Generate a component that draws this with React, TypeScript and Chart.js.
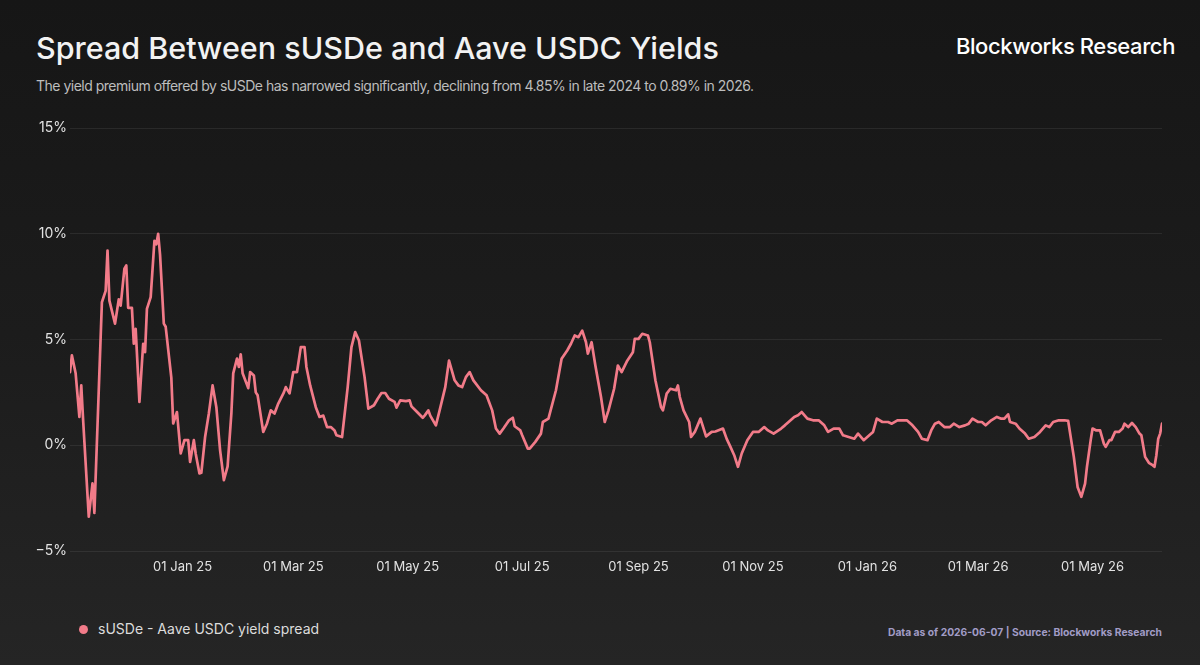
import React, { useEffect, useRef } from "react";
import { Chart, registerables } from "chart.js";

Chart.register(...registerables);

// Day offsets counted from 2024-11-01
const startDate = "2024-11-01";
const dayIndex = [
  1, 2, 4, 6, 7, 8, 11, 13, 14, 18, 20, 21, 22, 25, 27, 28, 30, 31, 32, 34, 35, 36, 38, 40, 41, 42, 44, 46, 47, 48, 49, 51, 52, 55, 56, 58,
  60, 62, 64, 65, 67, 68, 70, 71, 73, 75, 77, 79, 81, 83, 85, 87, 88, 90, 91, 92, 93, 96, 97, 99, 100, 101, 104, 106, 108, 110, 112, 115,
  116, 118, 120, 122, 124, 126, 127, 129, 132, 134, 136, 138, 140, 142, 143, 146, 149, 151, 153, 155, 158, 160, 163, 165, 167, 169, 171,
  174, 175, 177, 180, 182, 183, 186, 189, 190, 192, 193, 196, 198, 201, 203, 206, 208, 210, 212, 214, 216, 220, 223, 226, 228, 230, 232,
  235, 237, 238, 241, 242, 245, 246, 249, 252, 253, 256, 260, 263, 266, 268, 270, 272, 274, 276, 277, 279, 281, 284, 286, 288, 291, 293,
  295, 298, 301, 302, 304, 306, 309, 310, 313, 316, 317, 319, 321, 324, 325, 326, 328, 331, 332, 334, 337, 340, 343, 345, 349, 351, 353,
  355, 357, 359, 362, 365, 368, 371, 373, 376, 380, 382, 384, 387, 389, 391, 394, 397, 400, 403, 405, 408, 411, 413, 416, 419, 421, 424,
  427, 429, 431, 434, 437, 439, 442, 445, 447, 450, 453, 455, 458, 460, 462, 464, 467, 470, 472, 475, 478, 480, 482, 485, 487, 489, 492,
  495, 497, 499, 501, 502, 505, 507, 510, 512, 515, 518, 521, 523, 525, 528, 531, 533, 536, 538, 540, 542, 543, 545, 546, 548, 550, 552,
  553, 555, 556, 558, 560, 562, 563, 565, 567, 569, 571, 572, 574, 576, 578, 579, 580, 581, 582, 583,
];
const spreadPct = [
  3.46, 4.25, 3.4, 1.34, 2.83, 1.18, -3.38, -1.8, -3.2, 6.76, 7.3, 9.2, 6.84, 5.75, 6.9, 6.6, 8.35, 8.5, 6.5, 6.5, 4.8, 5.5, 2.05, 4.8, 4.4,
  6.45, 7.0, 9.67, 9.5, 10.0, 9.0, 5.75, 5.6, 3.2, 1.03, 1.57,
  -0.39, 0.24, 0.24, -0.79, 0.24, -0.4, -1.33, -1.3, 0.39, 1.5, 2.83, 1.8, -0.24, -1.65, -1.0, 1.5, 3.4, 4.1, 3.7, 4.3, 3.4, 2.7, 3.46, 3.3,
  2.5, 2.36, 0.63, 1.03, 1.65, 1.5, 1.97, 2.5,
  2.75, 2.45, 3.46, 3.46, 4.64, 4.64, 3.7, 2.83, 1.8, 1.34, 1.4, 0.86, 0.86, 0.7, 0.47, 0.39, 2.75, 4.64, 5.35, 4.95, 3.22, 1.73, 1.89, 2.2,
  2.47, 2.47, 2.2,
  2.05, 1.78, 2.12, 2.09, 2.12, 1.84, 1.57, 1.3, 1.4, 1.65, 1.4, 0.94, 1.65, 2.75, 4.0, 3.07, 2.83, 2.75, 3.22, 3.46, 3.07, 2.6, 2.36, 1.65,
  0.79, 0.55, 0.79,
  1.18, 1.3, 0.9, 0.7, 0.47, -0.16, -0.16, 0.16, 0.55, 1.1, 1.26, 2.6, 4.09, 4.48, 4.8, 5.19, 5.11, 5.42, 4.87, 4.33, 4.87, 3.77, 2.28, 1.1,
  1.65, 2.67, 3.77,
  3.46, 4.0, 4.4, 5.03, 5.03, 5.27, 5.19, 4.87, 3.07, 1.8, 1.65, 2.44, 2.67, 2.6, 2.83, 2.28, 1.65, 1.1, 0.39, 0.63, 1.26, 0.42, 0.63, 0.65,
  0.79, 0.3, -0.08,
  -0.47, -1.02, -0.39, 0.24, 0.63, 0.63, 0.86, 0.7, 0.55, 0.79, 0.94, 1.1, 1.34, 1.42, 1.57, 1.26, 1.18, 1.18, 0.94, 0.63, 0.79, 0.79, 0.47,
  0.39, 0.31, 0.55, 0.24,
  0.47, 0.63, 1.26, 1.1, 1.1, 1.02, 1.18, 1.18, 1.18, 0.94, 0.63, 0.31, 0.24, 0.7, 1.02, 1.1, 0.86, 0.86, 1.02, 0.86, 0.94, 1.02, 1.26, 1.1,
  1.1, 0.94, 1.18,
  1.34, 1.26, 1.26, 1.46, 1.1, 1.02, 0.79, 0.55, 0.31, 0.39, 0.63, 0.94, 0.86, 1.1, 1.18, 1.18, 1.15, -0.55, -1.97, -2.44, -1.81, -1.02, 0.24,
  0.79, 0.7, 0.7, 0.08,
  -0.08, 0.24, 0.24, 0.63, 0.63, 0.79, 1.02, 0.86, 1.05, 0.86, 0.55, 0.47, -0.55, -0.83, -0.94, -1.02, -0.47, 0.31, 0.55, 1.02,
];

const xTickDays = [61, 120, 181, 242, 304, 365, 426, 485, 546];
const xTickLabels = [
  "01 Jan 25", "01 Mar 25", "01 May 25", "01 Jul 25", "01 Sep 25",
  "01 Nov 25", "01 Jan 26", "01 Mar 26", "01 May 26",
];
const yTickValues = [-5, 0, 5, 10, 15];

const seriesLabel = "sUSDe - Aave USDC yield spread";
const titleText = "Spread Between sUSDe and Aave USDC Yields";
const subtitleText =
  "The yield premium offered by sUSDe has narrowed significantly, declining from 4.85% in late 2024 to 0.89% in 2026.";
const brandText = "Blockworks Research";
const footerText = "Data as of 2026-06-07 | Source: Blockworks Research";

const LINE = "#f27b89";
const FONT = "Inter, 'Noto Sans', sans-serif";

export default function App() {
  const ref = useRef<HTMLCanvasElement>(null);

  useEffect(() => {
    if (!ref.current) return;
    const points = dayIndex.map((d, i) => ({ x: d, y: spreadPct[i] }));
    const chart = new Chart(ref.current, {
      type: "line",
      data: {
        datasets: [
          {
            label: seriesLabel,
            data: points,
            borderColor: LINE,
            backgroundColor: LINE,
            borderWidth: 2.7,
            pointRadius: 0,
            tension: 0,
            borderJoinStyle: "round",
            borderCapStyle: "round",
          },
        ],
      },
      options: {
        animation: false,
        responsive: false,
        maintainAspectRatio: false,
        layout: { padding: { left: 8, right: 38, top: 28, bottom: 19 } },
        plugins: { legend: { display: false }, tooltip: { enabled: false } },
        scales: {
          x: {
            type: "linear",
            min: dayIndex[0],
            max: dayIndex[dayIndex.length - 1],
            grid: { display: false, drawTicks: false },
            border: { display: false },
            afterBuildTicks: (axis: any) => {
              axis.ticks = xTickDays.map((v) => ({ value: v }));
            },
            afterFit: (s: any) => {
              s.height = 30;
            },
            ticks: {
              autoSkip: false,
              maxRotation: 0,
              minRotation: 0,
              padding: 8,
              color: "#e2e2e2",
              font: { family: FONT, size: 13 },
              callback: (v: any) => {
                const i = xTickDays.indexOf(Number(v));
                return i >= 0 ? xTickLabels[i] : "";
              },
            },
          },
          y: {
            min: -5,
            max: 15,
            afterBuildTicks: (axis: any) => {
              axis.ticks = yTickValues.map((v) => ({ value: v }));
            },
            afterFit: (s: any) => {
              s.width = 62;
            },
            grid: { color: "rgba(255,255,255,0.075)", drawTicks: false, lineWidth: 1 },
            border: { display: false },
            ticks: {
              padding: 3,
              color: "#e2e2e2",
              font: { family: FONT, size: 14 },
              callback: (v: any) => {
                const n = Number(v);
                return (n < 0 ? "\u2212" : "") + Math.abs(n) + "%";
              },
            },
          },
        },
      },
    });
    return () => chart.destroy();
  }, []);

  return (
    <div
      style={{
        position: "fixed",
        left: 0,
        top: 0,
        width: 1200,
        height: 665,
        overflow: "hidden",
        background: "linear-gradient(180deg, #161616 0%, #1c1c1c 50%, #252525 100%)",
        fontFamily: FONT,
      }}
    >
      <div
        style={{
          position: "absolute",
          left: 36,
          top: 28,
          fontSize: 30.5,
          fontWeight: 500,
          color: "#f2f2f2",
          letterSpacing: 0,
          whiteSpace: "nowrap",
          lineHeight: "40px",
        }}
      >
        {titleText}
      </div>
      <div
        style={{
          position: "absolute",
          left: 36,
          top: 76,
          fontSize: 14,
          color: "#bdbdbd",
          letterSpacing: -0.5,
          whiteSpace: "nowrap",
          lineHeight: "20px",
        }}
      >
        {subtitleText}
      </div>
      <div
        style={{
          position: "absolute",
          right: 25,
          top: 30,
          fontSize: 22,
          fontWeight: 500,
          color: "#ffffff",
          letterSpacing: -0.4,
          whiteSpace: "nowrap",
          lineHeight: "32px",
        }}
      >
        {brandText}
      </div>
      <canvas
        ref={ref}
        width={1200}
        height={500}
        style={{ position: "absolute", left: 0, top: 100, width: 1200, height: 500 }}
      />
      <div
        style={{
          position: "absolute",
          left: 79,
          top: 619,
          display: "flex",
          alignItems: "center",
          whiteSpace: "nowrap",
        }}
      >
        <span
          style={{
            display: "inline-block",
            width: 9,
            height: 9,
            borderRadius: "50%",
            background: LINE,
            marginRight: 10,
          }}
        />
        <span style={{ fontSize: 14, color: "#dcdcdc", lineHeight: "20px" }}>{seriesLabel}</span>
      </div>
      <div
        style={{
          position: "absolute",
          right: 38,
          top: 624,
          fontSize: 10.3,
          fontWeight: 700,
          color: "#a19cc6",
          whiteSpace: "nowrap",
          lineHeight: "16px",
        }}
      >
        {footerText}
      </div>
    </div>
  );
}
